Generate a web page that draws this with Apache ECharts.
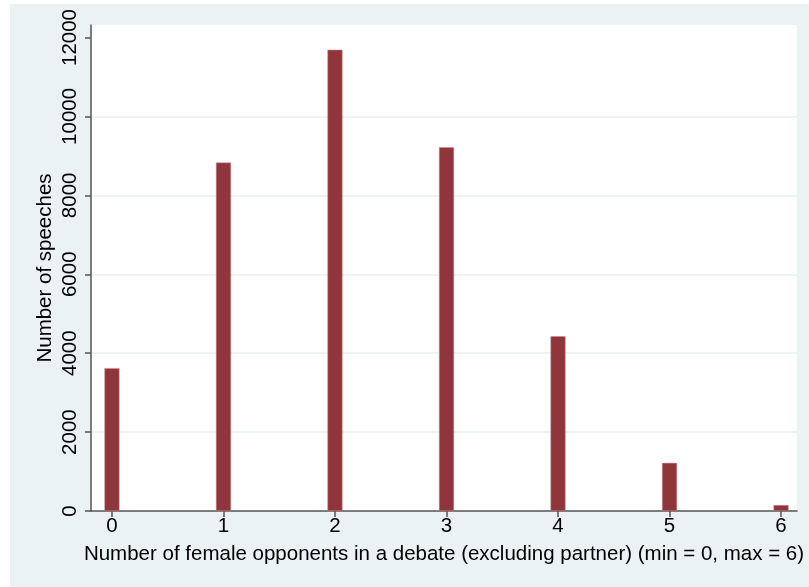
<!DOCTYPE html>
<html>
<head>
<meta charset="utf-8">
<script src="https://cdn.jsdelivr.net/npm/echarts@6/dist/echarts.min.js"></script>
<style>
html,body{margin:0;padding:0;background:#ffffff;}
#wrap{position:absolute;left:10px;top:4px;width:799px;height:583px;background:#eaf2f3;}
#chart{width:799px;height:583px;}
</style>
</head>
<body>
<div id="wrap"><div id="chart"></div></div>
<script>
const categories = [0, 1, 2, 3, 4, 5, 6];
const speeches = [3620, 8830, 11690, 9220, 4430, 1220, 150];
const yTicks = [0, 2000, 4000, 6000, 8000, 10000, 12000];
const xTicks = [0, 1, 2, 3, 4, 5, 6];
const xTitle = 'Number of female opponents in a debate (excluding partner) (min = 0, max = 6)';
const yTitle = 'Number of speeches';

const font = '"Liberation Sans", Arial, sans-serif';
const fs = 20.5;
const chart = echarts.init(document.getElementById('chart'), null, {renderer: 'canvas'});
chart.setOption({
  animation: false,
  backgroundColor: 'transparent',
  grid: {left: 81, right: 12, top: 21, bottom: 76, show: true, backgroundColor: '#ffffff', borderWidth: 0},
  xAxis: {
    type: 'value', min: -0.188, max: 6.143,
    axisLine: {show: true, onZero: false, lineStyle: {color: '#555555', width: 1.5}},
    axisTick: {show: true, length: 6, customValues: xTicks, lineStyle: {color: '#555555', width: 1.5}},
    axisLabel: {customValues: xTicks, color: '#000000', fontFamily: font, fontSize: fs, margin: 5},
    splitLine: {show: false},
    name: xTitle, nameLocation: 'middle', nameGap: 33, nameMoveOverlap: false,
    nameTextStyle: {color: '#000000', fontFamily: font, fontSize: fs}
  },
  yAxis: {
    type: 'value', min: 0, max: 12317,
    axisLine: {show: true, onZero: false, lineStyle: {color: '#555555', width: 1.5}},
    axisTick: {show: true, length: 6, customValues: yTicks, lineStyle: {color: '#555555', width: 1.5}},
    axisLabel: {customValues: yTicks, rotate: 90, color: '#000000', fontFamily: font, fontSize: fs, margin: 10,
      formatter: v => String(v)},
    splitLine: {show: true, showMinLine: false, showMaxLine: false, lineStyle: {color: '#e6eff2', width: 1.5}},
    name: yTitle, nameLocation: 'middle', nameGap: 35, nameMoveOverlap: false,
    nameTextStyle: {color: '#000000', fontFamily: font, fontSize: fs}
  },
  series: [{
    type: 'bar',
    data: categories.map((c, i) => [c, speeches[i]]),
    barWidth: 15,
    itemStyle: {color: '#90353b', borderColor: '#c98a8e', borderWidth: 0.5}
  }]
});
</script>
</body>
</html>
